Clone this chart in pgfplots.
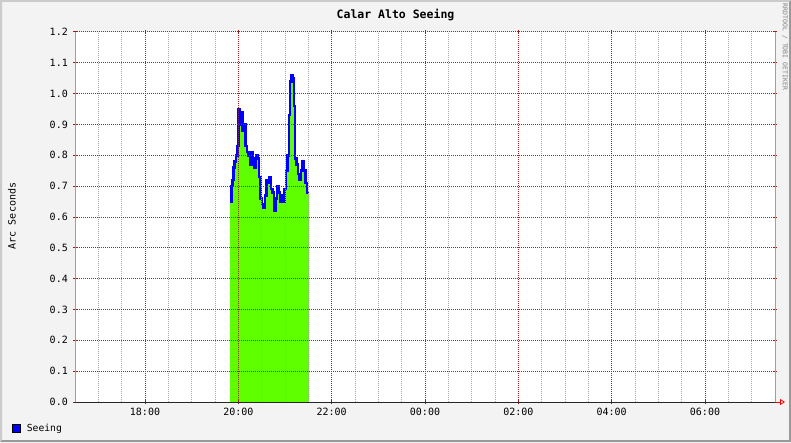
\documentclass[border=0pt]{standalone}
\usepackage{fontspec}
\setmonofont{DejaVu Sans Mono}
\usepackage{pgfplots}
\usepackage{pgfplotstable}
\pgfplotsset{compat=1.18}
\usetikzlibrary{arrows.meta}
\definecolor{backc}{HTML}{F3F3F3}
\definecolor{shadea}{HTML}{CBCBCB}
\definecolor{shadeb}{HTML}{999999}
\definecolor{mgrid}{HTML}{A82222}
\definecolor{mtick}{HTML}{962020}
\definecolor{mingrid}{HTML}{A8A8A8}
\definecolor{areagreen}{HTML}{5FFF00}
\definecolor{linecol}{HTML}{0000FF}

\pgfplotstableread{
t v
19.826 0.65
19.858 0.70
19.879 0.72
19.901 0.76
19.922 0.78
19.954 0.80
19.986 0.83
20.008 0.95
20.040 0.90
20.061 0.94
20.094 0.88
20.126 0.90
20.158 0.83
20.190 0.81
20.222 0.80
20.254 0.77
20.286 0.81
20.319 0.79
20.351 0.76
20.383 0.80
20.415 0.79
20.447 0.73
20.479 0.66
20.511 0.64
20.543 0.63
20.576 0.67
20.608 0.72
20.640 0.71
20.672 0.73
20.704 0.69
20.736 0.68
20.769 0.62
20.801 0.66
20.833 0.70
20.865 0.68
20.897 0.65
20.929 0.67
20.961 0.65
20.994 0.69
21.026 0.75
21.058 0.80
21.090 0.93
21.111 1.04
21.144 1.06
21.176 1.05
21.197 0.96
21.219 0.79
21.251 0.77
21.283 0.74
21.315 0.72
21.347 0.75
21.379 0.78
21.411 0.75
21.444 0.71
21.476 0.68
21.519 0.68
}\seeing

\begin{document}
\begin{tikzpicture}[x=1pt,y=1pt]
\useasboundingbox (0,0) rectangle (791,442);
\fill[backc] (0,0) rectangle (791,442);
\fill[shadea] (0,0) -- (0,442) -- (791,442) -- (789,440) -- (2,440) -- (2,2) -- cycle;
\fill[shadeb] (0,0) -- (791,0) -- (791,442) -- (789,440) -- (789,2) -- (2,2) -- cycle;

\begin{axis}[
  at={(75pt,40pt)}, anchor=south west,
  scale only axis, width=700pt, height=370pt,
  xmin=16.5, xmax=31.5, ymin=0, ymax=1.2,
  axis background/.style={fill=white},
  axis on top,
  axis line style={draw=none},
  xtick={18,20,22,24,26,28,30},
  xticklabels={18:00,20:00,22:00,00:00,02:00,04:00,06:00},
  minor xtick={17,17.5,18.5,19,19.5,20.5,21,21.5,22.5,23,23.5,24.5,25,25.5,26.5,27,27.5,28.5,29,29.5,30.5,31},
  ytick={0,0.1,0.2,0.3,0.4,0.5,0.6,0.7,0.8,0.9,1.0,1.1,1.2},
  yticklabels={0.0,0.1,0.2,0.3,0.4,0.5,0.6,0.7,0.8,0.9,1.0,1.1,1.2},
  grid=both,
  every axis grid/.style={},
  every major grid/.style={color=mgrid, line width=1pt, dash pattern=on 1pt off 1pt},
  every minor grid/.style={color=mingrid, line width=1pt, dash pattern=on 1pt off 1pt},
  major tick length=4pt, minor tick length=0pt, tick align=center,
  major tick style={draw=mtick, line width=1pt, solid},
  ticklabel style={font=\ttfamily\fontsize{10}{10}\selectfont, text=black},
  yticklabel style={inner sep=0pt, xshift=-5pt},
  xticklabel style={inner sep=0pt, yshift=-4pt},
  legend style={at={(0,0)}, anchor=west, xshift=-63pt, yshift=-26.5pt, draw=none, fill=none,
    font=\ttfamily\fontsize{9.7}{10}\selectfont, inner sep=0pt},
  legend cell align=left,
  legend image code/.code={\draw[fill=linecol, draw=black, line width=0.8pt] (0pt,-4pt) rectangle (8pt,4pt); \path (11pt,0pt);},
]
\addplot[fill=areagreen, draw=none, const plot, forget plot] table[x=t, y=v] {\seeing} \closedcycle;
\addplot[linecol, line width=2.5pt, const plot] table[x=t, y=v] {\seeing};
\addlegendentry{Seeing}
\end{axis}

\draw[gray!75, line width=1pt] (75,40) -- (75,410);
\draw[gray!75, line width=1pt] (775,40) -- (775,410);
\draw[black!85, line width=1pt] (75,40) -- (775,40);
\draw[red, line width=0.8pt, -{Triangle[open, length=5pt, width=6pt]}] (775,40) -- (785,40);

\node[font=\ttfamily\bfseries\fontsize{11.5}{12}\selectfont] at (395.5,426.7) {Calar Alto Seeing};
\node[rotate=90, font=\ttfamily\fontsize{10}{10}\selectfont] at (12,226) {Arc Seconds};
\node[rotate=-90, font=\ttfamily\fontsize{6.5}{7}\selectfont, text=gray] at (785,395) {RRDTOOL / TOBI OETIKER};
\end{tikzpicture}
\end{document}
